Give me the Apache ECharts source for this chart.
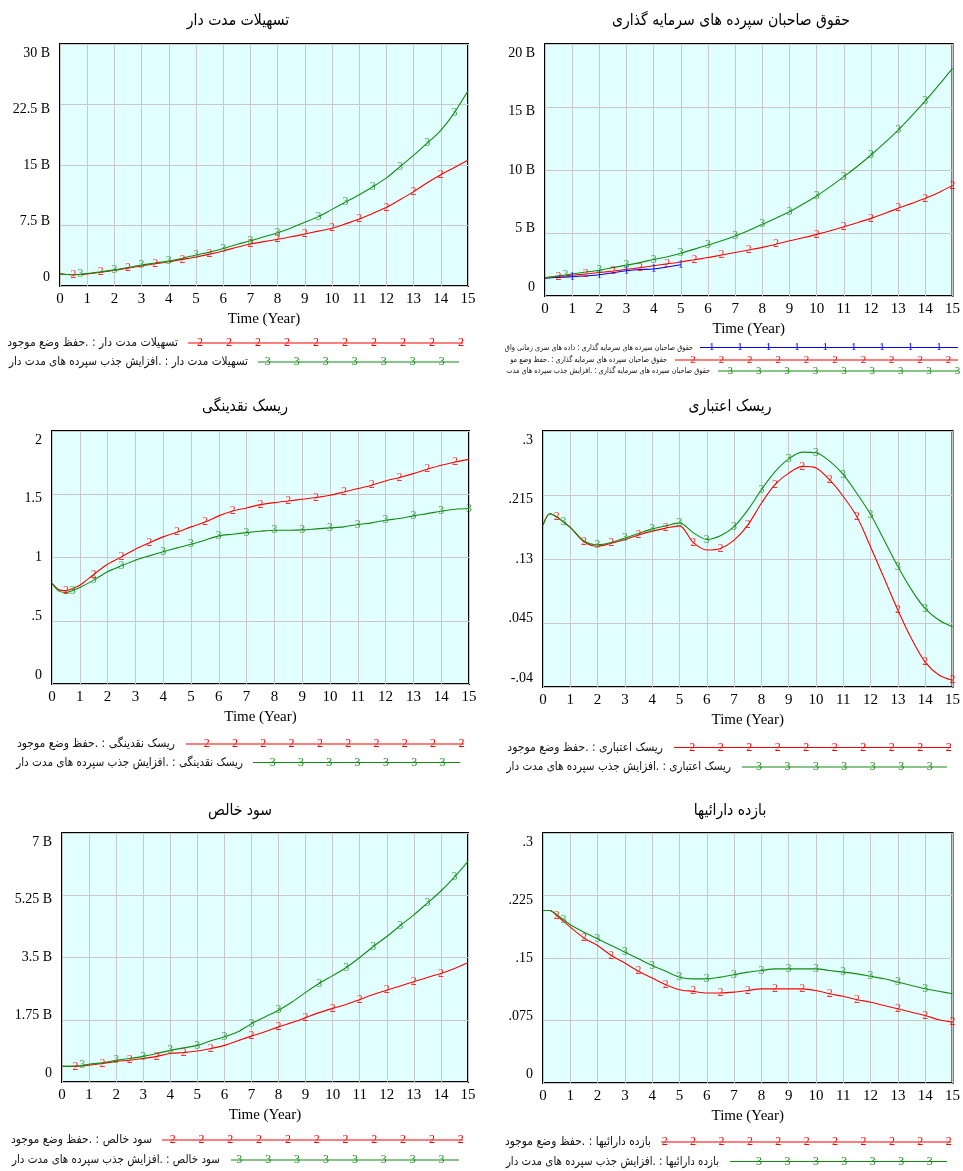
<!DOCTYPE html>
<html>
<head>
<meta charset="utf-8">
<title>Vensim scenario comparison</title>
<script src="https://cdn.jsdelivr.net/npm/echarts@6/dist/echarts.min.js"></script>
<style>
  html, body { margin: 0; padding: 0; background: #fff; }
  #chart { width: 963px; height: 1171px; }
</style>
</head>
<body>
<div id="chart"></div>
<script>
// Simulation time (years)
const T = [0, 0.25, 0.5, 0.75, 1, 1.5, 2, 2.5, 3, 3.5, 4, 4.5, 5, 5.5, 6, 6.5, 7, 7.5,
           8, 8.5, 9, 9.5, 10, 10.5, 11, 11.5, 12, 12.5, 13, 13.5, 14, 14.5, 15];

// تسهیلات مدت دار (billions)
const loansBase = [1.5, 1.42, 1.38, 1.42, 1.5, 1.7, 1.95, 2.2, 2.5, 2.75, 3.0, 3.3, 3.6, 3.95, 4.35, 4.8, 5.2, 5.5,
                   5.8, 6.1, 6.45, 6.8, 7.15, 7.7, 8.3, 9.0, 9.75, 10.7, 11.7, 12.8, 13.8, 14.7, 15.6];
const loansDeposit = [1.5, 1.42, 1.4, 1.45, 1.55, 1.75, 2.0, 2.3, 2.6, 2.85, 3.1, 3.45, 3.85, 4.2, 4.65, 5.15, 5.6, 6.1,
                      6.6, 7.2, 7.9, 8.6, 9.5, 10.4, 11.3, 12.3, 13.4, 14.8, 16.2, 17.7, 19.3, 21.5, 24.2];

// حقوق صاحبان سپرده های سرمایه گذاری (billions)
const equityData = [1.42, 1.45, 1.48, 1.5, 1.53, 1.6, 1.69, 1.85, 2.0, 2.1, 2.14, 2.3, 2.48, null, null, null, null, null,
                    null, null, null, null, null, null, null, null, null, null, null, null, null, null, null];
const equityBase = [1.45, 1.5, 1.55, 1.6, 1.65, 1.75, 1.86, 1.98, 2.12, 2.25, 2.4, 2.55, 2.7, 2.88, 3.05, 3.25, 3.45, 3.65,
                    3.86, 4.1, 4.38, 4.62, 4.89, 5.18, 5.5, 5.82, 6.16, 6.55, 6.96, 7.35, 7.75, 8.22, 8.78];
const equityDeposit = [1.45, 1.52, 1.6, 1.67, 1.75, 1.9, 2.05, 2.25, 2.45, 2.65, 2.9, 3.12, 3.4, 3.72, 4.05, 4.38, 4.76, 5.2,
                       5.7, 6.18, 6.69, 7.3, 7.94, 8.68, 9.47, 10.3, 11.19, 12.15, 13.17, 14.3, 15.48, 16.75, 18.07];

// ریسک نقدینگی
const liqBase = [0.795, 0.745, 0.738, 0.755, 0.78, 0.866, 0.947, 1.005, 1.066, 1.116, 1.163, 1.2, 1.242, 1.28, 1.329, 1.368, 1.392, 1.418,
                 1.434, 1.447, 1.46, 1.474, 1.492, 1.518, 1.545, 1.571, 1.605, 1.632, 1.663, 1.697, 1.729, 1.755, 1.776];
const liqDeposit = [0.795, 0.734, 0.724, 0.74, 0.763, 0.821, 0.887, 0.934, 0.979, 1.013, 1.045, 1.076, 1.105, 1.137, 1.171, 1.184, 1.197, 1.208,
                    1.216, 1.216, 1.218, 1.226, 1.234, 1.242, 1.261, 1.274, 1.295, 1.308, 1.329, 1.347, 1.366, 1.382, 1.387];

// ریسک اعتباری
const creditBase = [0.175, 0.19, 0.186, 0.179, 0.172, 0.153, 0.147, 0.151, 0.156, 0.162, 0.167, 0.171, 0.174, 0.152, 0.142, 0.144, 0.155, 0.175,
                    0.204, 0.229, 0.244, 0.253, 0.251, 0.235, 0.213, 0.186, 0.146, 0.104, 0.062, 0.024, -0.007, -0.024, -0.031];
const creditDeposit = [0.175, 0.19, 0.186, 0.179, 0.172, 0.154, 0.149, 0.152, 0.158, 0.164, 0.17, 0.174, 0.178, 0.165, 0.156, 0.161, 0.173, 0.195,
                       0.222, 0.246, 0.263, 0.272, 0.271, 0.26, 0.242, 0.217, 0.189, 0.155, 0.12, 0.089, 0.064, 0.049, 0.04];

// سود خالص (billions)
const profitBase = [0.44, 0.44, 0.44, 0.45, 0.47, 0.52, 0.58, 0.61, 0.66, 0.72, 0.8, 0.83, 0.87, 0.94, 1.03, 1.16, 1.29, 1.41,
                    1.55, 1.67, 1.81, 1.95, 2.07, 2.18, 2.32, 2.46, 2.58, 2.7, 2.82, 2.94, 3.05, 3.19, 3.36];
const profitDeposit = [0.44, 0.44, 0.45, 0.47, 0.5, 0.54, 0.61, 0.66, 0.72, 0.8, 0.89, 0.96, 1.03, 1.16, 1.27, 1.41, 1.64, 1.83,
                       2.02, 2.25, 2.52, 2.77, 2.99, 3.22, 3.5, 3.81, 4.09, 4.4, 4.7, 5.03, 5.37, 5.76, 6.2];

// بازده دارائیها
const roaBase = [0.207, 0.207, 0.201, 0.194, 0.187, 0.174, 0.165, 0.153, 0.144, 0.134, 0.126, 0.118, 0.112, 0.11, 0.108, 0.108, 0.109, 0.111,
                 0.113, 0.113, 0.113, 0.113, 0.111, 0.107, 0.104, 0.1, 0.097, 0.093, 0.089, 0.085, 0.081, 0.076, 0.073];
const roaDeposit = [0.207, 0.207, 0.202, 0.196, 0.19, 0.181, 0.173, 0.165, 0.157, 0.149, 0.141, 0.134, 0.127, 0.125, 0.125, 0.127, 0.13, 0.133,
                    0.135, 0.137, 0.137, 0.137, 0.137, 0.135, 0.133, 0.131, 0.128, 0.125, 0.121, 0.117, 0.113, 0.11, 0.107];

// Y tick labels (bottom to top)
const loansTicks = ['0', '7.5 B', '15 B', '22.5 B', '30 B'];
const equityTicks = ['0', '5 B', '10 B', '15 B', '20 B'];
const liqTicks = ['0', '.5', '1', '1.5', '2'];
const creditTicks = ['-.04', '.045', '.13', '.215', '.3'];
const profitTicks = ['0', '1.75 B', '3.5 B', '5.25 B', '7 B'];
const roaTicks = ['0', '.075', '.15', '.225', '.3'];

// Times at which the run number is printed on each curve
const markA2 = [0.5, 1.5, 2.5, 3.5, 4.5, 5.5, 7, 8, 9, 10, 11, 12, 13, 14];
const markA3 = [0.75, 2, 3, 4, 5, 6, 7, 8, 9.5, 10.5, 11.5, 12.5, 13.5, 14.5];
const markB1 = [1, 2, 3, 4, 5];
const markB2 = [0.5, 1.5, 2.5, 3.5, 4.5, 5.5, 6.5, 7.5, 8.5, 10, 11, 12, 13, 14, 15];
const markB3 = [0.75, 2, 3, 4, 5, 6, 7, 8, 9, 10, 11, 12, 13, 14];
const markC2 = [0.5, 1.5, 2.5, 3.5, 4.5, 5.5, 6.5, 7.5, 8.5, 9.5, 10.5, 11.5, 12.5, 13.5, 14.5];
const markC3 = [0.75, 1.5, 2.5, 4, 5, 6, 7, 8, 9, 10, 11, 12, 13, 14, 15];
const markD2 = [0.5, 1.5, 2.5, 3.5, 4.5, 5.5, 6.5, 7.5, 8.5, 9.5, 10.5, 11.5, 13, 14, 15];
const markD3 = [0.75, 2, 3, 4, 5, 6, 7, 8, 9, 10, 11, 12, 13, 14];

const RED = '#ff0000', GREEN = '#128c12', BLUE = '#0000ff';
const SERIF = '"Liberation Serif", "Times New Roman", serif';
const ARABIC = '"DejaVu Sans", sans-serif';

const panels = [
  { title: 'تسهیلات مدت دار', tx: 238, ty: 21,
    grid: { left: 60, top: 44, width: 408, height: 242 },
    min: 0, max: 30, interval: 7.5, ticks: loansTicks,
    lines: [[loansBase, RED, '2', markA2], [loansDeposit, GREEN, '3', markA3]] },
  { title: 'حقوق صاحبان سپرده های سرمایه گذاری', tx: 731, ty: 21,
    grid: { left: 545, top: 44, width: 411, height: 252 },
    min: 0, max: 20, interval: 5, ticks: equityTicks,
    lines: [[equityData, BLUE, '1', markB1], [equityBase, RED, '2', markB2], [equityDeposit, GREEN, '3', markB3]] },
  { title: 'ریسک نقدینگی', tx: 245, ty: 407,
    grid: { left: 52, top: 431, width: 417, height: 253 },
    min: 0, max: 2, interval: 0.5, ticks: liqTicks,
    lines: [[liqBase, RED, '2', markC2], [liqDeposit, GREEN, '3', markC3]] },
  { title: 'ریسک اعتباری', tx: 730, ty: 407,
    grid: { left: 543, top: 431, width: 413, height: 256 },
    min: -0.04, max: 0.3, interval: 0.085, ticks: creditTicks,
    lines: [[creditBase, RED, '2', markD2], [creditDeposit, GREEN, '3', markD3]] },
  { title: 'سود خالص', tx: 240, ty: 811,
    grid: { left: 62, top: 833, width: 406, height: 249 },
    min: 0, max: 7, interval: 1.75, ticks: profitTicks,
    lines: [[profitBase, RED, '2', markA2], [profitDeposit, GREEN, '3', markA3]] },
  { title: 'بازده دارائیها', tx: 730, ty: 811,
    grid: { left: 543, top: 833, width: 413, height: 250 },
    min: 0, max: 0.3, interval: 0.075, ticks: roaTicks,
    lines: [[roaBase, RED, '2', markD2], [roaDeposit, GREEN, '3', markD3]] }
];

// Legend rows under each panel:
// [text right edge, y, text, line x1, x2, first mark x, step, count, color, mark, font size, horizontal squeeze]
const legendRows = [
  [178, 343, 'تسهیلات مدت دار : .حفظ وضع موجود', 188, 463, 200, 29, 10, RED, '2', 12, 0.9],
  [248, 362, 'تسهیلات مدت دار : .افزایش جذب سپرده های مدت دار', 258, 459, 267.7, 29, 7, GREEN, '3', 12, 0.87],
  [693, 347.5, 'حقوق صاحبان سپرده های سرمایه گذاری : داده های سری زمانی واق', 700, 958, 711.7, 28.4, 9, BLUE, '1', 8, 0.82],
  [667, 360, 'حقوق صاحبان سپرده های سرمایه گذاری : .حفظ وضع مو', 675, 958, 693, 28.4, 10, RED, '2', 8, 0.82],
  [710, 371, 'حقوق صاحبان سپرده های سرمایه گذاری : .افزایش جذب سپرده های مدت', 718, 958, 730.3, 28.4, 9, GREEN, '3', 8, 0.82],
  [175, 744, 'ریسک نقدینگی : .حفظ وضع موجود', 186, 464, 206.7, 28.3, 10, RED, '2', 12, 0.9],
  [243, 762.5, 'ریسک نقدینگی : .افزایش جذب سپرده های مدت دار', 253, 460, 272.7, 28.3, 7, GREEN, '3', 12, 0.87],
  [663, 747.5, 'ریسک اعتباری : .حفظ وضع موجود', 674, 951, 692.3, 28.5, 10, RED, '2', 12, 0.9],
  [731, 767, 'ریسک اعتباری : .افزایش جذب سپرده های مدت دار', 742, 947, 759, 28.45, 7, GREEN, '3', 12, 0.87],
  [152, 1140, 'سود خالص : .حفظ وضع موجود', 162, 463, 172.7, 28.8, 11, RED, '2', 12, 0.9],
  [220, 1160, 'سود خالص : .افزایش جذب سپرده های مدت دار', 231, 459, 239.3, 28.9, 8, GREEN, '3', 12, 0.86],
  [651, 1142, 'بازده دارائیها : .حفظ وضع موجود', 661, 951, 664.7, 28.4, 11, RED, '2', 12, 0.89],
  [719, 1161.5, 'بازده دارائیها : .افزایش جذب سپرده های مدت دار', 730, 947, 759, 28.45, 7, GREEN, '3', 12, 0.855]
];

// Rich styles that pull the outer tick labels inside the plot frame
function tickRich(fontSize) {
  const base = { fontFamily: SERIF, fontSize: fontSize, color: '#000' };
  return {
    t0: Object.assign({}, base, { lineHeight: fontSize + 18, verticalAlign: 'top' }),
    t1: Object.assign({}, base, { lineHeight: fontSize + 9, verticalAlign: 'top' }),
    t2: Object.assign({}, base),
    t3: Object.assign({}, base, { lineHeight: fontSize + 9, verticalAlign: 'bottom' }),
    t4: Object.assign({}, base, { lineHeight: fontSize + 18, verticalAlign: 'bottom' })
  };
}

const grids = [], xAxes = [], yAxes = [], series = [], graphics = [];

panels.forEach(function (p, gi) {
  grids.push(Object.assign({
    show: true, backgroundColor: '#e2ffff', borderColor: '#000', borderWidth: 2, containLabel: false
  }, p.grid));

  xAxes.push({
    type: 'value', gridIndex: gi, min: 0, max: 15, interval: 1,
    name: 'Time (Year)', nameLocation: 'middle', nameGap: 26,
    nameTextStyle: { fontFamily: SERIF, fontSize: 15, color: '#000' },
    axisLine: { show: false }, axisTick: { show: false },
    axisLabel: { fontFamily: SERIF, fontSize: 15, color: '#000', margin: 6, interval: 0 },
    splitLine: { show: true, lineStyle: { color: '#c8c8c8', width: 1 } }
  });

  yAxes.push({
    type: 'value', gridIndex: gi, min: p.min, max: p.max, interval: p.interval,
    axisLine: { show: false }, axisTick: { show: false },
    axisLabel: {
      margin: 10, fontFamily: SERIF, fontSize: 14, color: '#000',
      formatter: (function (ticks) {
        return function (v, i) { return '{t' + i + '|' + ticks[i] + '}'; };
      })(p.ticks),
      rich: tickRich(14)
    },
    splitLine: { show: true, lineStyle: { color: '#c8c8c8', width: 1 } }
  });

  p.lines.forEach(function (ln) {
    const vals = ln[0], color = ln[1], mark = ln[2], times = ln[3];
    series.push({
      type: 'line', xAxisIndex: gi, yAxisIndex: gi,
      data: T.map(function (t, k) { return [t, vals[k]]; }),
      showSymbol: false, smooth: 0.3, connectNulls: false,
      lineStyle: { color: color, width: 1.1 }, itemStyle: { color: color },
      silent: true, z: 3
    });
    // run number printed on the curve at selected saved times
    series.push({
      type: 'scatter', xAxisIndex: gi, yAxisIndex: gi,
      data: times.map(function (t) { return [t, vals[T.indexOf(t)]]; }),
      symbolSize: 2, itemStyle: { color: 'rgba(0,0,0,0)' }, silent: true, z: 4,
      label: {
        show: true, position: 'inside', formatter: mark,
        fontFamily: SERIF, fontSize: 12, color: color
      },
      labelLayout: { hideOverlap: false }
    });
  });

  graphics.push({
    type: 'text', x: p.tx, y: p.ty, scaleX: 0.875,
    style: { text: p.title, font: '16px ' + ARABIC, fill: '#000',
             align: 'center', verticalAlign: 'middle', textAlign: 'center', textVerticalAlign: 'middle' }
  });
});

legendRows.forEach(function (r) {
  const right = r[0], y = r[1], text = r[2], x1 = r[3], x2 = r[4], first = r[5], step = r[6],
        count = r[7], color = r[8], mark = r[9], size = r[10], squeeze = r[11];
  graphics.push({
    type: 'text', x: right, y: y, scaleX: squeeze,
    style: { text: text, font: size + 'px ' + ARABIC, fill: '#111',
             align: 'right', verticalAlign: 'middle', textAlign: 'right', textVerticalAlign: 'middle' }
  });
  graphics.push({
    type: 'line', shape: { x1: x1, y1: y, x2: x2, y2: y },
    style: { stroke: color, lineWidth: 1.1 }
  });
  for (let i = 0; i < count; i++) {
    graphics.push({
      type: 'text', x: first + i * step, y: y,
      style: { text: mark, font: (size < 12 ? 11 : 12) + 'px ' + SERIF, fill: color,
               align: 'center', verticalAlign: 'middle', textAlign: 'center', textVerticalAlign: 'middle' }
    });
  }
});

const chart = echarts.init(document.getElementById('chart'), null, { renderer: 'canvas' });
chart.setOption({
  animation: false,
  backgroundColor: '#fff',
  grid: grids,
  xAxis: xAxes,
  yAxis: yAxes,
  series: series,
  graphic: graphics
});
</script>
</body>
</html>
